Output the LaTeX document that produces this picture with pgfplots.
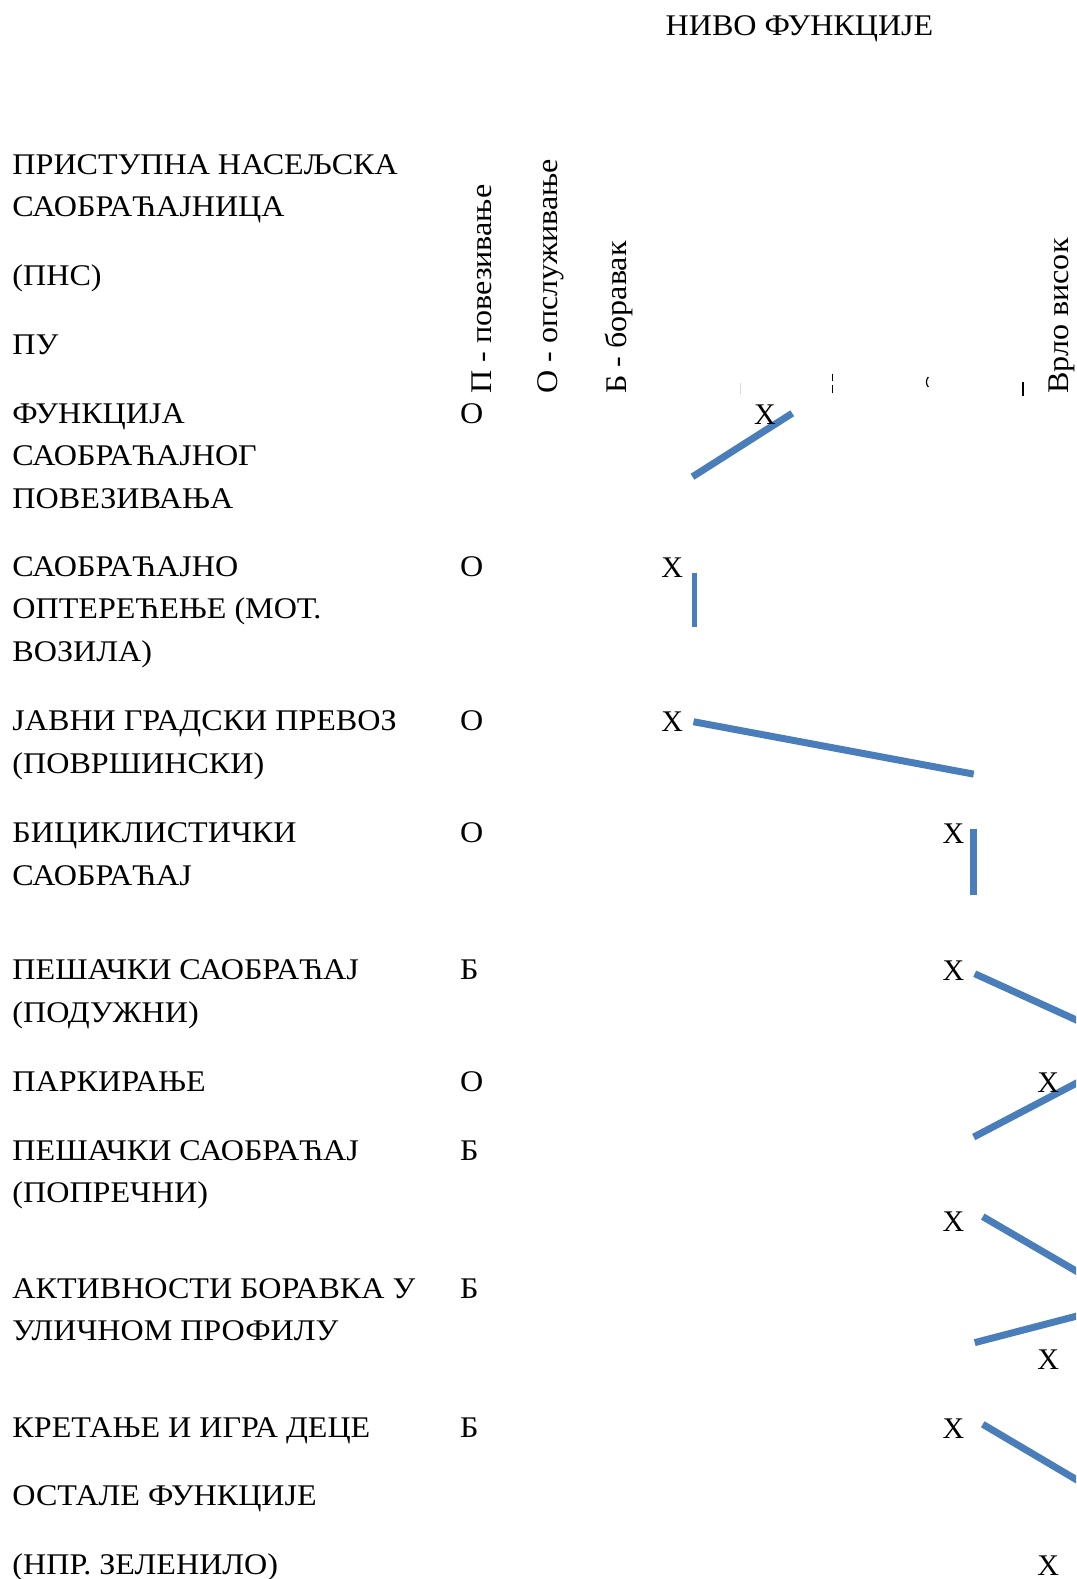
\documentclass[border=0pt]{standalone}
\usepackage{pgfplots}
\pgfplotsset{compat=1.18}
\usepackage{fontspec}
\setmainfont[FakeStretch=1.07]{Liberation Serif}
\newfontfamily\markfont{Liberation Serif}

\definecolor{linkblue}{HTML}{4A7EBB}
\tikzset{lbl/.style={anchor=base west, inner sep=0pt, font=\fontsize{15pt}{21pt}\selectfont}}

\begin{document}
\begin{tikzpicture}
\begin{axis}[
  at={(0,0)}, anchor=south west,
  width=538pt, height=789.5pt, scale only axis,
  xmin=0, xmax=1067.5, ymin=0, ymax=1566.5,
  y dir=reverse,
  hide axis,
  clip=true,
  seg/.style={linkblue, line width=3.5pt, line cap=butt, no marks},
]
  % blue links between the chosen levels
  \addplot[seg] coordinates {(687,473) (786,410)};
  \addplot[seg, line width=2.7pt] coordinates {(689,568) (689,622)};
  \addplot[seg] coordinates {(688,716) (966,768)};
  \addplot[seg] coordinates {(966,822) (966,888)};
  \addplot[seg] coordinates {(967,966) (1090,1022)};
  \addplot[seg] coordinates {(966,1128) (1090,1063)};
  \addplot[seg] coordinates {(975,1207) (1090,1274)};
  \addplot[seg] coordinates {(967,1332) (1090,1300)};
  \addplot[seg] coordinates {(975,1413) (1090,1481)};

  % X marks
  \addplot[only marks, black, mark=text,
    text mark={\markfont\fontsize{15pt}{21pt}\selectfont X}] coordinates {
    (759,411) (667,563) (667,716) (946,827) (946,963)
    (1040,1074) (946,1212) (1040,1349) (946,1417) (1040,1553)
  };

  % title
  \node[lbl] at (axis cs:660,35) {НИВО ФУНКЦИЈЕ};

  % rotated column heads
  \node[lbl, rotate=90] at (axis cs:488,391) {П - повезивање};
  \node[lbl, rotate=90] at (axis cs:553,391) {О - опслуживање};
  \node[lbl, rotate=90] at (axis cs:622,391) {Б - боравак};
  \node[lbl, rotate=90] at (axis cs:1060,391) {Врло висок};

  % clipped fragments of neighbouring heads
  \draw[black!15, line width=0.4pt] (axis cs:735,380) -- (axis cs:735,391);
  \draw[black, line width=0.9pt] (axis cs:826,371) -- (axis cs:826,378);
  \draw[black, line width=0.9pt] (axis cs:826,382) -- (axis cs:826,390);
  \draw[black, line width=0.6pt] (axis cs:921,374) to[bend right=40] (axis cs:921,384);
  \draw[black, line width=0.7pt] (axis cs:1015,379) -- (axis cs:1015,393);

  % row labels
  \node[lbl] at (axis cs:12,173) {ПРИСТУПНА НАСЕЉСКА};
  \node[lbl] at (axis cs:12,215) {САОБРАЋАЈНИЦА};
  \node[lbl] at (axis cs:12,283) {(ПНС)};
  \node[lbl] at (axis cs:12,352) {ПУ};
  \node[lbl] at (axis cs:12,420) {ФУНКЦИЈА};
  \node[lbl] at (axis cs:12,462) {САОБРАЋАЈНОГ};
  \node[lbl] at (axis cs:12,504) {ПОВЕЗИВАЊА};
  \node[lbl] at (axis cs:12,572) {САОБРАЋАЈНО};
  \node[lbl] at (axis cs:12,614) {ОПТЕРЕЋЕЊЕ (МОТ.};
  \node[lbl] at (axis cs:12,656) {ВОЗИЛА)};
  \node[lbl] at (axis cs:12,725) {ЈАВНИ ГРАДСКИ ПРЕВОЗ};
  \node[lbl] at (axis cs:12,767) {(ПОВРШИНСКИ)};
  \node[lbl] at (axis cs:12,836) {БИЦИКЛИСТИЧКИ};
  \node[lbl] at (axis cs:12,878) {САОБРАЋАЈ};
  \node[lbl] at (axis cs:12,972) {ПЕШАЧКИ САОБРАЋАЈ};
  \node[lbl] at (axis cs:12,1014) {(ПОДУЖНИ)};
  \node[lbl] at (axis cs:12,1083) {ПАРКИРАЊЕ};
  \node[lbl] at (axis cs:12,1151) {ПЕШАЧКИ САОБРАЋАЈ};
  \node[lbl] at (axis cs:12,1193) {(ПОПРЕЧНИ)};
  \node[lbl] at (axis cs:12,1288) {АКТИВНОСТИ БОРАВКА У};
  \node[lbl] at (axis cs:12,1330) {УЛИЧНОМ ПРОФИЛУ};
  \node[lbl] at (axis cs:12,1426) {КРЕТАЊЕ И ИГРА ДЕЦЕ};
  \node[lbl] at (axis cs:12,1494) {ОСТАЛЕ ФУНКЦИЈЕ};
  \node[lbl] at (axis cs:12,1562) {(НПР. ЗЕЛЕНИЛО)};

  % function group letters
  \node[lbl] at (axis cs:456,420) {О};
  \node[lbl] at (axis cs:456,572) {О};
  \node[lbl] at (axis cs:456,725) {О};
  \node[lbl] at (axis cs:456,836) {О};
  \node[lbl] at (axis cs:456,972) {Б};
  \node[lbl] at (axis cs:456,1083) {О};
  \node[lbl] at (axis cs:456,1151) {Б};
  \node[lbl] at (axis cs:456,1288) {Б};
  \node[lbl] at (axis cs:456,1426) {Б};
\end{axis}
\pgfresetboundingbox
\path[use as bounding box] (0,0) rectangle (538pt,789.5pt);
\end{tikzpicture}
\end{document}
